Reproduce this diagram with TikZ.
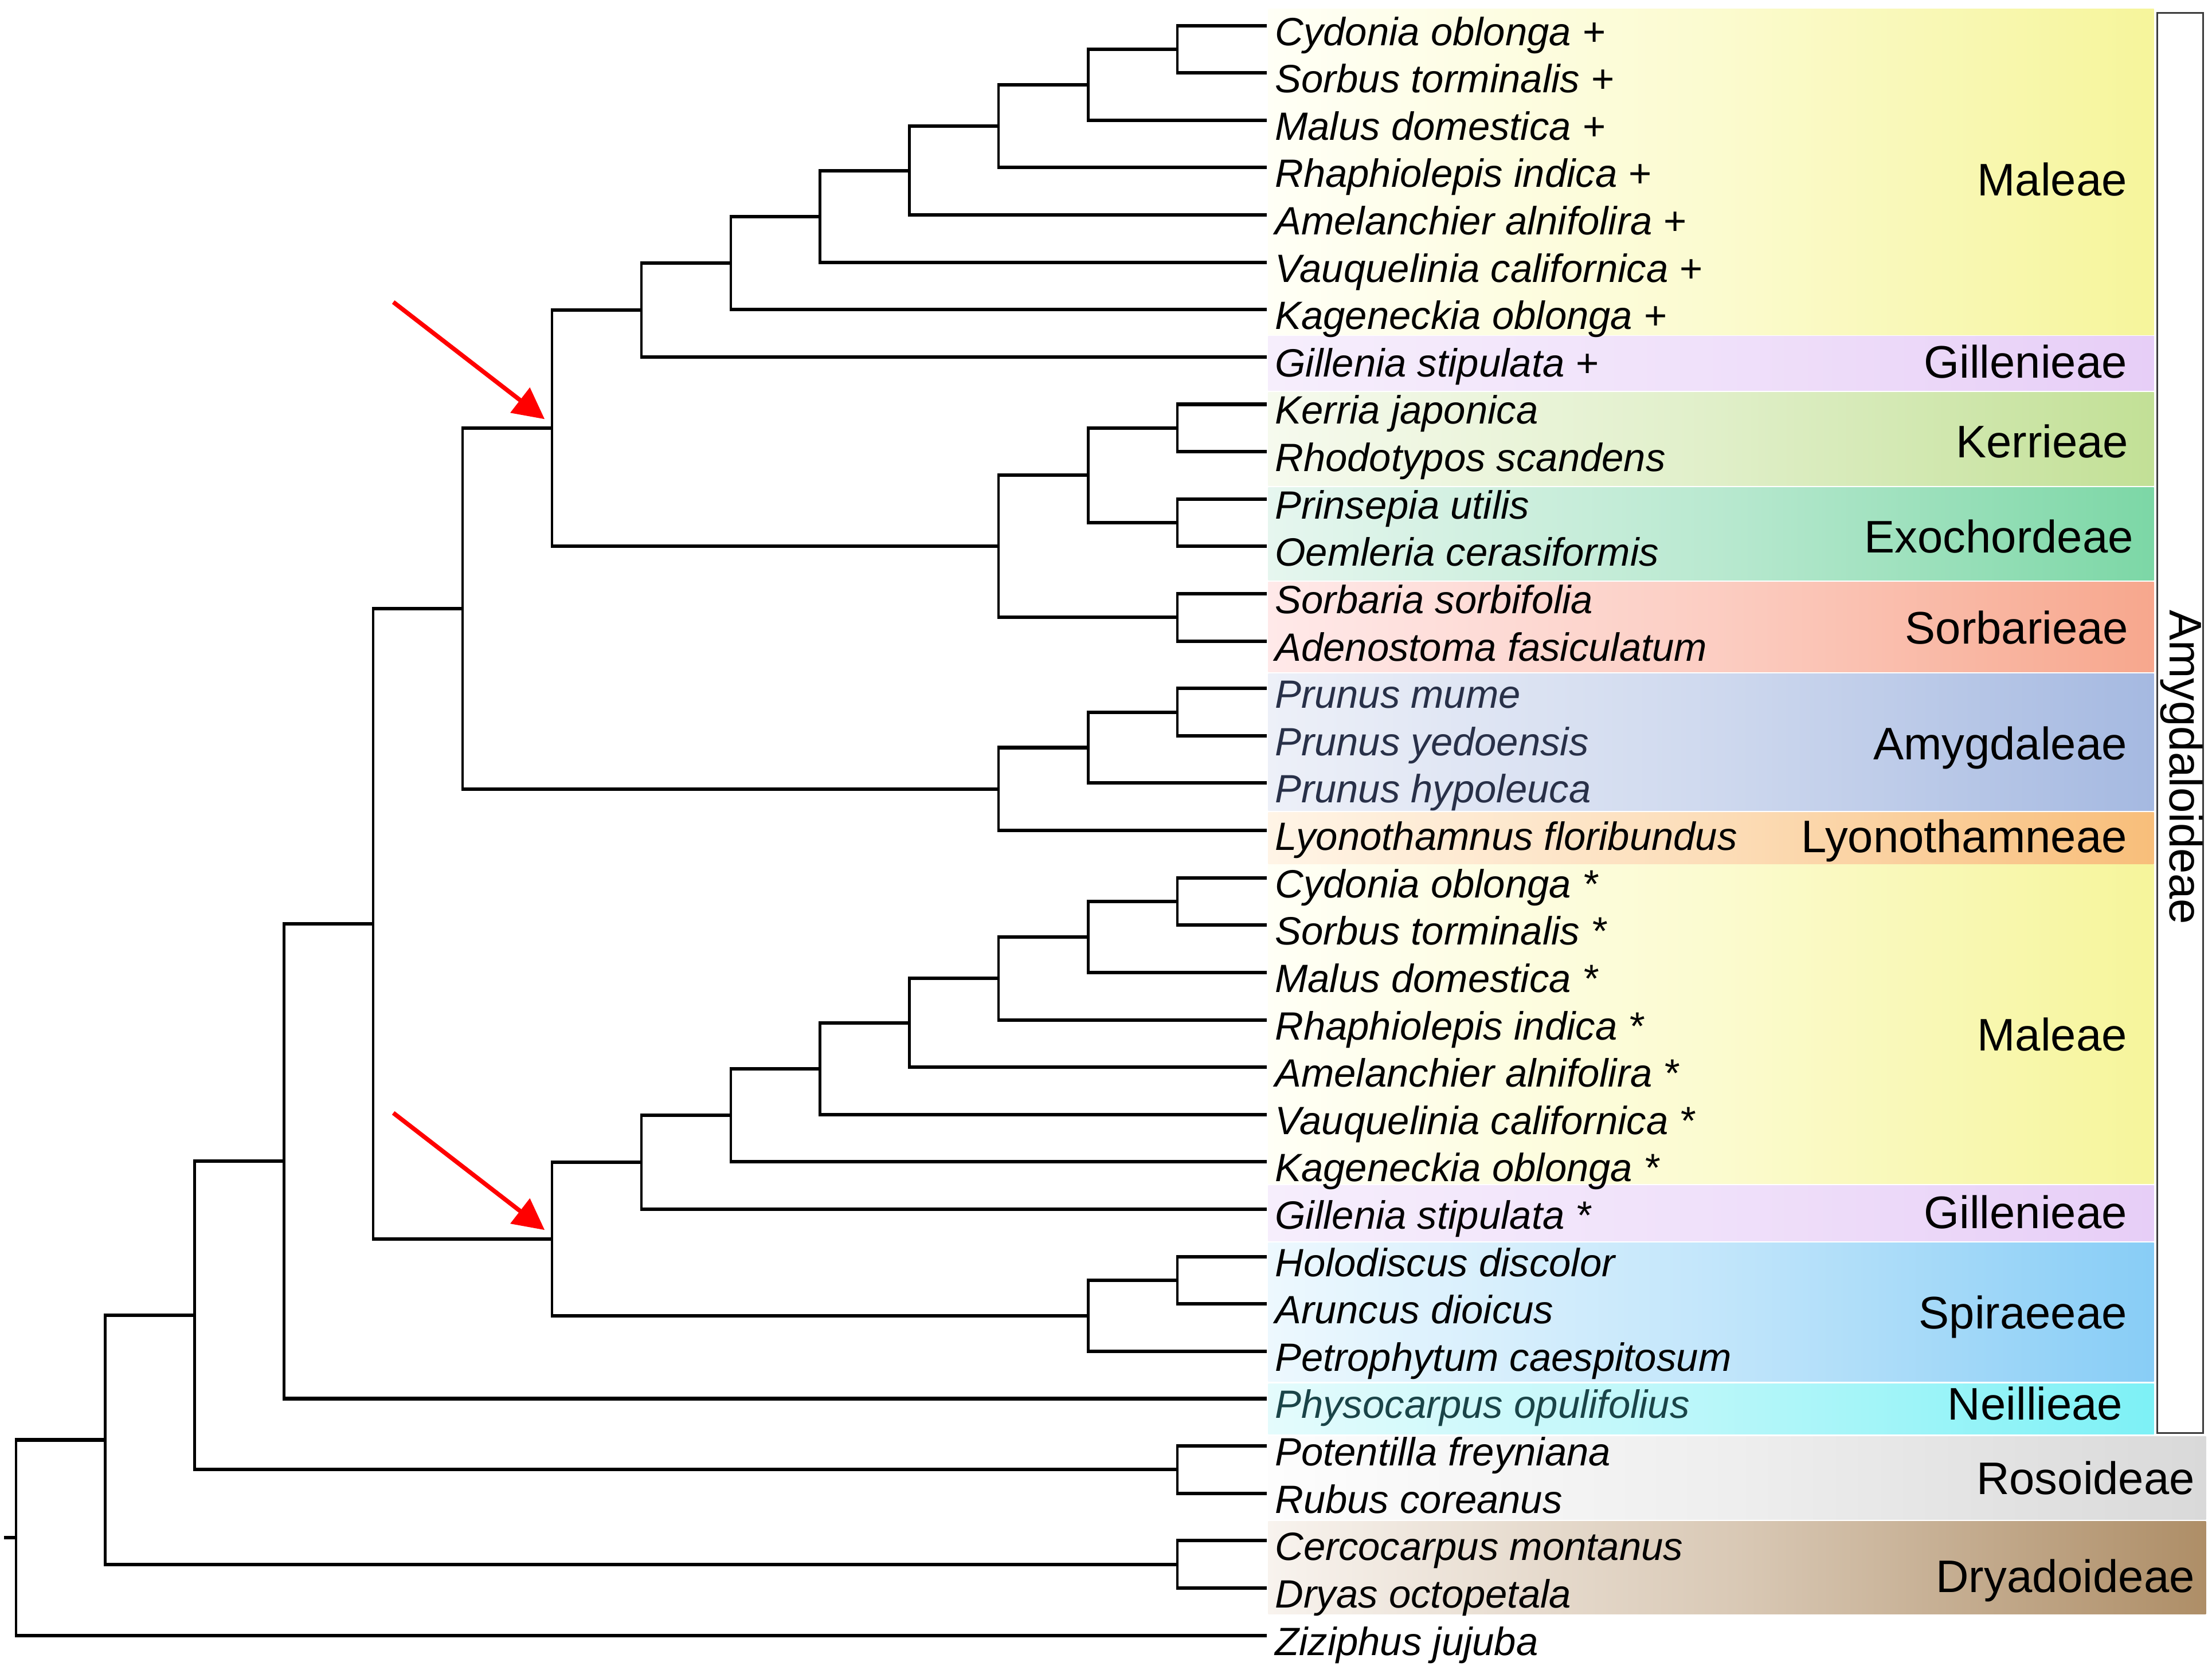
\documentclass[tikz,border=0pt]{standalone}
\usepackage{fontspec}
\setmainfont{Liberation Sans}
\usetikzlibrary{calc,arrows.meta}

\definecolor{maleL}{HTML}{FFFFF6}\definecolor{maleR}{HTML}{F6F59B}
\definecolor{gillL}{HTML}{F6EEFC}\definecolor{gillR}{HTML}{E7CEF7}
\definecolor{kerrL}{HTML}{F6FAEE}\definecolor{kerrR}{HTML}{C2E096}
\definecolor{exoL}{HTML}{E6F6EF}\definecolor{exoR}{HTML}{7CD7A6}
\definecolor{sorbL}{HTML}{FFE9E9}\definecolor{sorbR}{HTML}{F7A78D}
\definecolor{amyL}{HTML}{EDF0F8}\definecolor{amyR}{HTML}{A5B9E1}
\definecolor{lyoL}{HTML}{FFF4E6}\definecolor{lyoR}{HTML}{F8BE7A}
\definecolor{spiL}{HTML}{EDF8FE}\definecolor{spiR}{HTML}{88CDF6}
\definecolor{neiL}{HTML}{E4FBFC}\definecolor{neiR}{HTML}{7DF1F6}
\definecolor{rosL}{HTML}{FDFDFD}\definecolor{rosR}{HTML}{D9D9D9}
\definecolor{dryL}{HTML}{F8F3EE}\definecolor{dryR}{HTML}{AE8E67}
\definecolor{amytext}{HTML}{283048}
\definecolor{neitext}{HTML}{1A4448}
\definecolor{boxgray}{HTML}{3C3C3C}

\newcommand\bandfill[5]{\shade[left color=#4, right color=#5, middle color=#5!42!#4] (899,#1) rectangle (#3,#2);}
\newcommand\leaf[4][black]{%
  \coordinate (#3) at (897.9,{18.1+(#2-1)*33.57});
  \node[leaf,text=#1] (#3t) at (903.5,{18.1+(#2-1)*33.57+14}) {#4};}
\newcommand\clade[4]{%
  \path ($(#3)!0.5!(#4)$) coordinate (#1m);
  \coordinate (#1) at (#2,0 |- #1m);
  \draw[vl] (#1 |- #3) -- (#1 |- #4);
  \draw[hl] (#1 |- #3) -- (#3);
  \draw[hl] (#1 |- #4) -- (#4);}

\begin{document}
\begin{tikzpicture}[x=0.025cm,y=-0.025cm,
  hl/.style={line width=1.75pt, shorten <=-0.66pt},
  vl/.style={line width=1.3pt},
  leaf/.style={anchor=base west, inner sep=0pt, font=\fontsize{19.9}{20}\selectfont\itshape},
  tribe/.style={anchor=base east, inner sep=0pt, font=\fontsize{23}{24}\selectfont},
  redarrow/.style={draw=red, line width=2.2pt, -{Triangle[length=15.7pt,width=15.6pt]}},
]
\fill[white] (0,0) rectangle (1568,1184);
\useasboundingbox (0,0) rectangle (1568,1184);

% coloured bands
\bandfill{6.3}{237.3}{1526.8}{maleL}{maleR}
\bandfill{238.5}{276.8}{1526.8}{gillL}{gillR}
\bandfill{278.3}{344.3}{1526.8}{kerrL}{kerrR}
\bandfill{345.6}{411.5}{1526.8}{exoL}{exoR}
\bandfill{412.8}{476.3}{1526.8}{sorbL}{sorbR}
\bandfill{477.6}{574.6}{1526.8}{amyL}{amyR}
\bandfill{576}{612.5}{1526.8}{lyoL}{lyoR}
\bandfill{613}{839.3}{1526.8}{maleL}{maleR}
\bandfill{840.6}{880}{1526.8}{gillL}{gillR}
\bandfill{881.3}{979.6}{1526.8}{spiL}{spiR}
\bandfill{981.2}{1016.8}{1526.8}{neiL}{neiR}
\bandfill{1018.4}{1077.5}{1563.7}{rosL}{rosR}
\bandfill{1078.4}{1144.3}{1563.7}{dryL}{dryR}

% Amygdaloideae box
\draw[line width=1pt, draw=boxgray] (1529.2,9.1) rectangle (1561.7,1015.9);
\node[rotate=-90, anchor=base, inner sep=0pt, font=\fontsize{23}{24}\selectfont] (amy) at (1538.3,544) {Amygdaloideae};

% tribe labels
\node[tribe] (t1) at (1508,138.8) {Maleae};
\node[tribe] (t2) at (1508,268) {Gillenieae};
\node[tribe] (t3) at (1509,324.6) {Kerrieae};
\node[tribe] (t4) at (1512.5,391.8) {Exochordeae};
\node[tribe] (t5) at (1509,456.5) {Sorbarieae};
\node[tribe] (t6) at (1508,538.6) {Amygdaleae};
\node[tribe] (t7) at (1508,604.5) {Lyonothamneae};
\node[tribe] (t8) at (1508,744.8) {Maleae};
\node[tribe] (t9) at (1508,870.8) {Gillenieae};
\node[tribe] (t10) at (1508,941.9) {Spiraeeae};
\node[tribe] (t11) at (1505,1006.8) {Neillieae};
\node[tribe] (t12) at (1556,1059.4) {Rosoideae};
\node[tribe] (t13) at (1556,1128.8) {Dryadoideae};

% leaves
\leaf{1}{l1}{Cydonia oblonga +}
\leaf{2}{l2}{Sorbus torminalis +}
\leaf{3}{l3}{Malus domestica +}
\leaf{4}{l4}{Rhaphiolepis indica +}
\leaf{5}{l5}{Amelanchier alnifolira +}
\leaf{6}{l6}{Vauquelinia californica +}
\leaf{7}{l7}{Kageneckia oblonga +}
\leaf{8}{l8}{Gillenia stipulata +}
\leaf{9}{l9}{Kerria japonica}
\leaf{10}{l10}{Rhodotypos scandens}
\leaf{11}{l11}{Prinsepia utilis}
\leaf{12}{l12}{Oemleria cerasiformis}
\leaf{13}{l13}{Sorbaria sorbifolia}
\leaf{14}{l14}{Adenostoma fasiculatum}
\leaf[amytext]{15}{l15}{Prunus mume}
\leaf[amytext]{16}{l16}{Prunus yedoensis}
\leaf[amytext]{17}{l17}{Prunus hypoleuca}
\leaf{18}{l18}{Lyonothamnus floribundus}
\leaf{19}{l19}{Cydonia oblonga *}
\leaf{20}{l20}{Sorbus torminalis *}
\leaf{21}{l21}{Malus domestica *}
\leaf{22}{l22}{Rhaphiolepis indica *}
\leaf{23}{l23}{Amelanchier alnifolira *}
\leaf{24}{l24}{Vauquelinia californica *}
\leaf{25}{l25}{Kageneckia oblonga *}
\leaf{26}{l26}{Gillenia stipulata *}
\leaf{27}{l27}{Holodiscus discolor}
\leaf{28}{l28}{Aruncus dioicus}
\leaf{29}{l29}{Petrophytum caespitosum}
\leaf[neitext]{30}{l30}{Physocarpus opulifolius}
\leaf{31}{l31}{Potentilla freyniana}
\leaf{32}{l32}{Rubus coreanus}
\leaf{33}{l33}{Cercocarpus montanus}
\leaf{34}{l34}{Dryas octopetala}
\leaf{35}{l35}{Ziziphus jujuba}

% tree
\clade{P}{834.6}{l1}{l2}
\clade{O}{771.3}{P}{l3}
\clade{N}{707.9}{O}{l4}
\clade{M}{644.6}{N}{l5}
\clade{L}{581.3}{M}{l6}
\clade{K}{518.0}{L}{l7}
\clade{I}{454.6}{K}{l8}
\clade{S}{834.6}{l9}{l10}
\clade{T}{834.6}{l11}{l12}
\clade{Q}{771.3}{S}{T}
\clade{R}{834.6}{l13}{l14}
\clade{J}{707.9}{Q}{R}
\clade{G}{391.3}{I}{J}
\clade{V}{834.6}{l15}{l16}
\clade{U}{771.3}{V}{l17}
\clade{H}{707.9}{U}{l18}
\clade{E}{328.0}{G}{H}
\clade{Pb}{834.6}{l19}{l20}
\clade{Ob}{771.3}{Pb}{l21}
\clade{Nb}{707.9}{Ob}{l22}
\clade{Mb}{644.6}{Nb}{l23}
\clade{Lb}{581.3}{Mb}{l24}
\clade{Kb}{518.0}{Lb}{l25}
\clade{W}{454.6}{Kb}{l26}
\clade{Z}{834.6}{l27}{l28}
\clade{X}{771.3}{Z}{l29}
\clade{F}{391.3}{W}{X}
\clade{D}{264.6}{E}{F}
\clade{C}{201.3}{D}{l30}
\clade{Rs}{834.6}{l31}{l32}
\clade{B}{138.0}{C}{Rs}
\clade{Dr}{834.6}{l33}{l34}
\clade{A}{74.6}{B}{Dr}
\clade{Root}{11.3}{A}{l35}
\coordinate (stub) at (3,0 |- Root);
\draw[hl, shorten <=0pt] (stub) -- (Root);

% red arrows
\coordinate (a1s) at ($(G)+(-112.5,-89.4)$);
\coordinate (a1e) at ($(G)+(-5.2,-6.4)$);
\draw[redarrow] (a1s) -- (a1e);
\coordinate (a2s) at ($(F)+(-112.5,-89.4)$);
\coordinate (a2e) at ($(F)+(-5.2,-6.4)$);
\draw[redarrow] (a2s) -- (a2e);
\end{tikzpicture}
\end{document}
